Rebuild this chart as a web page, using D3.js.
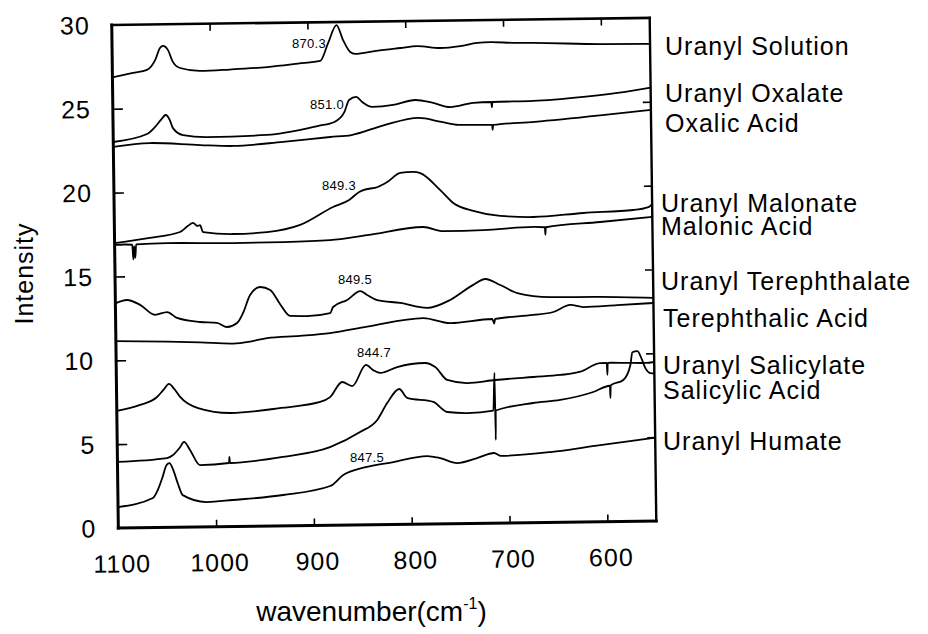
<!DOCTYPE html>
<html>
<head>
<meta charset="utf-8">
<script src="https://cdn.jsdelivr.net/npm/d3@7"></script>
<style>
  html, body { margin: 0; padding: 0; background: #fff; }
  svg { display: block; }
  text { font-family: "Liberation Sans", Arial, Helvetica, sans-serif; fill: #000; }
</style>
</head>
<body>
<svg id="chart" width="928" height="634"></svg>
<script>
// Axis ticks
const xTicks = [1100, 1000, 900, 800, 700, 600];
const yTicks = [0, 5, 10, 15, 20, 25, 30];

// Spectra: [wavenumber (cm-1), intensity], each offset vertically
const uranylSolution = [
  [1100, 26.88], [1079, 27.12], [1064.6, 27.29], [1056, 27.88], [1051, 28.59], [1047.8, 28.71],
  [1043, 28.47], [1038, 27.75], [1030.7, 27.38], [1010, 27.19], [980, 27.25], [941.7, 27.37],
  [910, 27.55], [887.4, 27.69], [879, 28.76], [870.3, 29.82], [863.7, 28.92], [856.6, 28.2],
  [851.6, 28.08], [830, 28.25], [805.5, 28.4], [788, 28.5], [764.5, 28.37], [744, 28.47],
  [726.6, 28.64], [713, 28.68], [690, 28.62], [669.3, 28.6], [600.8, 28.48], [550, 28.45]
];
const uranylOxalate = [
  [1100, 23.02], [1065.4, 23.47], [1057.2, 23.88], [1051, 24.3], [1046.1, 24.59], [1042, 24.3],
  [1038.8, 23.8], [1028.6, 23.38], [1004, 23.24], [942.7, 23.32], [890.1, 23.82], [873.6, 24.04],
  [863.3, 24.63], [858.4, 25.34], [851.0, 25.52], [845, 25.21], [834.8, 24.91], [813.4, 25.01],
  [790.8, 25.29], [772.5, 25.1], [755.1, 24.84], [731.5, 25.07], [713, 25.11], [712.5, 24.8],
  [712, 25.11], [670.1, 25.14], [618.9, 25.34], [584, 25.55], [550, 25.84]
];
const oxalicAcid = [
  [1100, 22.73], [1062.6, 22.93], [1011.3, 22.77], [977.5, 22.69], [926.4, 22.9], [878.2, 23.15],
  [856.4, 23.25], [822.6, 23.82], [787.6, 24.22], [764.1, 23.96], [746.9, 23.77], [712.5, 23.74],
  [712, 23.45], [711.5, 23.74], [669, 23.89], [597.3, 24.25], [550, 24.52]
];
const uranylMalonate = [
  [1100, 16.99], [1063.8, 17.27], [1033, 17.6], [1025, 17.95], [1019.6, 18.14], [1015, 17.95],
  [1012.4, 18.0], [1009.5, 17.58], [978.8, 17.44], [944, 17.53], [910.1, 17.93], [876.2, 18.97],
  [859.7, 19.38], [849.3, 19.85], [845.1, 19.96], [830.2, 20.13], [820.5, 20.42], [807.1, 20.95],
  [793.8, 21.0], [786.7, 20.93], [766.4, 19.9], [753.3, 19.12], [732.9, 18.63], [705.4, 18.31],
  [671.7, 18.22], [620.4, 18.42], [569.3, 18.56], [553.8, 18.72], [550, 18.9]
];
const malonicAcid = [
  [1100, 16.88], [1090, 16.9], [1082, 16.88], [1081, 16.0], [1080, 16.8], [1079, 16.1],
  [1078, 16.9], [1046.4, 16.95], [978.9, 16.9], [927.7, 16.92], [879.7, 17.0], [841.7, 17.27],
  [784.3, 17.71], [763.9, 17.45], [722.9, 17.48], [671.8, 17.63], [660, 17.6], [659.5, 17.15],
  [659, 17.6], [603.4, 17.87], [550, 18.14]
];
const uranylTerephthalate = [
  [1100, 13.4], [1088.1, 13.59], [1074.8, 13.29], [1059.7, 12.68], [1047.3, 12.84], [1037.2, 12.48],
  [1013.8, 12.22], [996.4, 12.15], [986.1, 11.9], [975.9, 12.13], [969.6, 12.73], [962.2, 13.79],
  [951.9, 14.26], [941.6, 14.07], [931.6, 13.22], [921.6, 12.51], [904.2, 12.49], [880.6, 12.65],
  [877.5, 13.01], [863, 13.42], [849.5, 13.94], [842.6, 13.7], [832.4, 13.39], [808.9, 13.2],
  [781.3, 12.88], [757.7, 13.34], [734, 14.22], [721.6, 14.56], [706.3, 14.19], [689, 13.7],
  [655.3, 13.43], [604.2, 13.4], [550, 13.3]
];
const terephthalicAcid = [
  [1100, 11.15], [1047.7, 11.07], [1014, 11.0], [980.2, 10.91], [962.8, 11.01], [945.4, 11.21],
  [911.7, 11.32], [880.9, 11.46], [842.9, 11.81], [785.5, 12.28], [758, 11.96], [714.9, 12.17],
  [713, 11.9], [712, 12.17], [673, 12.38], [652.5, 12.54], [635, 12.95], [621.8, 12.81],
  [587, 12.9], [550, 13.0]
];
const uranylSalicylate = [
  [1100, 6.98], [1076.2, 7.32], [1058.7, 7.78], [1052, 8.2], [1046.3, 8.55], [1041, 8.25],
  [1035.1, 7.77], [1016.9, 7.09], [983.2, 6.77], [932, 7.03], [892, 7.36], [881.8, 7.64],
  [869.2, 8.53], [859, 8.28], [844.7, 9.53], [837, 9.2], [830.2, 9.04], [812.8, 9.38],
  [784.1, 9.6], [773.9, 9.35], [761.8, 8.57], [741.3, 8.37], [712.7, 8.53], [673.8, 8.68],
  [646.2, 8.78], [625.7, 8.96], [605.3, 9.46], [598.5, 9.47], [598, 8.75], [597.5, 9.47],
  [577.7, 9.45], [559, 9.43], [550, 9.48]
];
const salicylicAcid = [
  [1100, 3.94], [1049.3, 4.13], [1043.1, 4.31], [1036, 4.75], [1031.7, 5.08], [1025.7, 4.6],
  [1015.7, 3.69], [986, 3.79], [985.5, 4.15], [985, 3.79], [930.7, 4.11], [882.5, 4.66],
  [851.6, 5.53], [833.9, 6.24], [823.5, 7.24], [811, 8.07], [802.9, 7.53], [776.3, 7.27],
  [762.2, 6.66], [741.7, 6.58], [715.1, 6.71], [713.4, 8.95], [713, 4.96], [712.6, 6.71],
  [674.2, 7.13], [646.5, 7.29], [612.7, 7.74], [595.6, 8.1], [595.2, 7.37], [594.8, 8.12],
  [581.8, 8.43], [574.4, 9.32], [572.2, 10.08], [567.1, 10.14], [563, 9.71], [559.1, 9.12],
  [554.1, 8.82], [550, 8.8]
];
const uranylHumate = [
  [1100, 1.25], [1064.2, 1.76], [1059.2, 2.23], [1054.1, 3.0], [1050, 3.71], [1046.9, 3.83],
  [1043.8, 3.53], [1038.7, 2.63], [1033.7, 1.91], [1009.2, 1.48], [982.6, 1.58], [931.1, 1.84],
  [882.8, 2.34], [869.4, 2.98], [847.5, 3.42], [817.9, 3.72], [783.4, 4.05], [770.1, 3.92],
  [752.8, 3.61], [732.3, 3.89], [714.9, 4.18], [707.8, 4.0], [657.4, 4.19], [606.2, 4.57],
  [550, 4.96]
];

const spectra = [uranylSolution, uranylOxalate, oxalicAcid, uranylMalonate, malonicAcid,
  uranylTerephthalate, terephthalicAcid, uranylSalicylate, salicylicAcid, uranylHumate];
const seriesNames = ["Uranyl Solution", "Uranyl Oxalate", "Oxalic Acid", "Uranyl Malonate",
  "Malonic Acid", "Uranyl Terephthalate", "Terephthalic Acid", "Uranyl Salicylate",
  "Salicylic Acid", "Uranyl Humate"];
// Annotated U=O stretch positions
const peakWavenumbers = [870.3, 851.0, 849.3, 849.5, 844.7, 847.5];

// ---- layout ----
const plot = { left: 115, right: 653, top: 21.4, bottom: 524.5 };
const tilt = -0.75;             // slight tilt of the plotted frame
const cx = 385, cy = 272;
const nameSpots = [[665, 55], [665, 102], [665, 132], [661, 212], [661, 235],
  [661, 290], [663, 327], [663, 374], [663, 399], [663, 450]];
const peakSpots = [[292, 48], [310, 109], [322, 190], [338, 284], [357, 357], [350, 462]];

const svg = d3.select("#chart");
const x = d3.scaleLinear().domain([1100, 550]).range([plot.left, plot.right]);
const y = d3.scaleLinear().domain([0, 30]).range([plot.bottom, plot.top]);

const g = svg.append("g").attr("transform", `rotate(${tilt},${cx},${cy})`);

// spectra
const line = d3.line().x(d => x(d[0])).y(d => y(d[1])).curve(d3.curveMonotoneX);
g.append("g").selectAll("path").data(spectra).join("path")
  .attr("d", line)
  .attr("fill", "none")
  .attr("stroke", "#000")
  .attr("stroke-width", 1.8)
  .attr("stroke-linejoin", "round");

// frame
const frame = g.append("g").attr("stroke", "#000").attr("fill", "none").attr("stroke-linecap", "square");
frame.append("line").attr("x1", plot.left).attr("x2", plot.left).attr("y1", plot.top).attr("y2", plot.bottom).attr("stroke-width", 3);
frame.append("line").attr("x1", plot.left).attr("x2", plot.right).attr("y1", plot.bottom).attr("y2", plot.bottom).attr("stroke-width", 3);
frame.append("line").attr("x1", plot.left).attr("x2", plot.right).attr("y1", plot.top).attr("y2", plot.top).attr("stroke-width", 2.6);
frame.append("line").attr("x1", plot.right).attr("x2", plot.right).attr("y1", plot.top).attr("y2", plot.bottom).attr("stroke-width", 2.4);

// inward ticks on all four sides
const innerX = xTicks.slice(1);
const innerY = yTicks.slice(1, -1);
const bottomAxis = d3.axisBottom(x).tickValues(innerX).tickSize(-7).tickFormat("");
const topAxis = d3.axisTop(x).tickValues(innerX).tickSize(-7).tickFormat("");
const leftAxis = d3.axisLeft(y).tickValues(innerY).tickSize(-10).tickFormat("");
const rightAxis = d3.axisRight(y).tickValues(innerY).tickSize(-8).tickFormat("");
[[bottomAxis, `translate(0,${plot.bottom})`], [topAxis, `translate(0,${plot.top})`],
 [leftAxis, `translate(${plot.left},0)`], [rightAxis, `translate(${plot.right},0)`]].forEach(([ax, tr]) => {
  const a = g.append("g").attr("transform", tr).call(ax);
  a.select(".domain").remove();
  a.selectAll(".tick line").attr("stroke", "#000").attr("stroke-width", 1.6);
});

// tick labels
g.append("g").selectAll("text").data(xTicks).join("text")
  .attr("x", d => x(d) + 3.5)
  .attr("y", 569)
  .attr("text-anchor", "middle")
  .attr("font-size", 25)
  .attr("letter-spacing", 1)
  .text(d => d);
g.append("g").selectAll("text").data(yTicks).join("text")
  .attr("x", 93)
  .attr("y", d => y(d))
  .attr("dy", "0.36em")
  .attr("text-anchor", "end")
  .attr("font-size", 25)
  .attr("letter-spacing", 1)
  .text(d => d);

// axis titles
svg.append("text")
  .attr("transform", "translate(32.5,273.5) rotate(-90)")
  .attr("text-anchor", "middle")
  .attr("font-size", 25)
  .attr("letter-spacing", 1)
  .text("Intensity");
const xt = svg.append("text")
  .attr("x", 371.5).attr("y", 621)
  .attr("text-anchor", "middle")
  .attr("font-size", 28);
xt.append("tspan").text("wavenumber(cm");
xt.append("tspan").attr("font-size", 16).attr("dy", -12).text("-1");
xt.append("tspan").attr("dy", 12).text(")");

// series names
svg.append("g").selectAll("text").data(seriesNames).join("text")
  .attr("x", (d, i) => nameSpots[i][0])
  .attr("y", (d, i) => nameSpots[i][1])
  .attr("font-size", 25)
  .attr("letter-spacing", 1)
  .text(d => d);

// peak annotations
svg.append("g").selectAll("text").data(peakWavenumbers).join("text")
  .attr("x", (d, i) => peakSpots[i][0])
  .attr("y", (d, i) => peakSpots[i][1])
  .attr("font-size", 13)
  .attr("letter-spacing", 0.3)
  .text(d => d3.format(".1f")(d));
</script>
</body>
</html>
